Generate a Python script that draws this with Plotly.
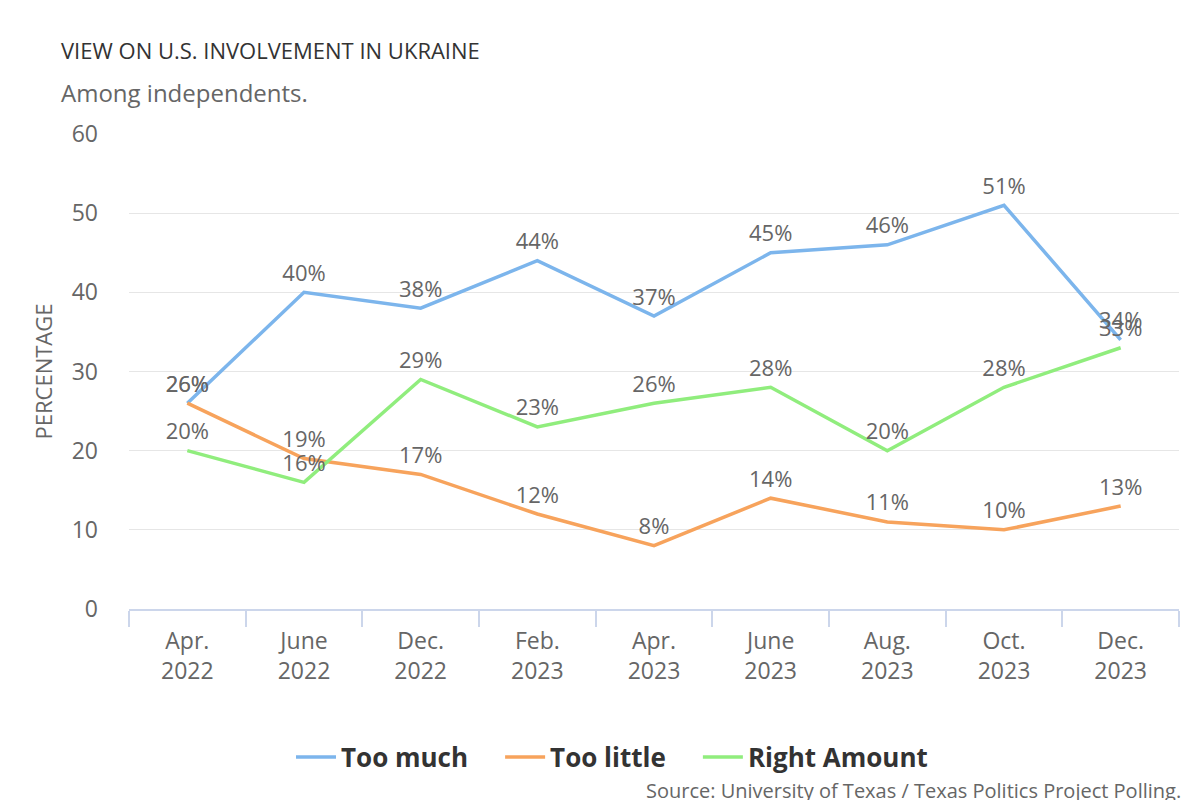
import plotly.graph_objects as go

categories = ["Apr.<br>2022", "June<br>2022", "Dec.<br>2022", "Feb.<br>2023", "Apr.<br>2023",
              "June<br>2023", "Aug.<br>2023", "Oct.<br>2023", "Dec.<br>2023"]
too_much = [26, 40, 38, 44, 37, 45, 46, 51, 34]
too_little = [26, 19, 17, 12, 8, 14, 11, 10, 13]
right_amount = [20, 16, 29, 23, 26, 28, 20, 28, 33]

NB = "\u00a0"
series = [
    ("Too much", too_much, "#7cb5ec", NB * 4),
    ("Too little", too_little, "#f7a35c", NB * 4),
    ("Right Amount", right_amount, "#90ed7d", ""),
]

FONT = "Open Sans"
OFF = 8  # page body margin
W, H = 1200 - OFF, 800 - OFF
# plot area in page pixels
PX0, PX1, PY0, PY1 = 129, 1179, 134, 609
L, T = PX0 - OFF, PY0 - OFF
R, B = W - L - (PX1 - PX0), H - T - (PY1 - PY0)
PW, PH = PX1 - PX0, PY1 - PY0


def px_x(x):
    return (x - PX0) / PW


def px_y(y):
    return (PY1 - y) / PH


fig = go.Figure()
for name, vals, color, pad in series:
    fig.add_trace(go.Scatter(
        x=categories, y=vals, name=name + pad, mode="lines+markers+text",
        line=dict(color=color, width=3.5),
        marker=dict(size=8, color="rgba(0,0,0,0)"),
        text=[f"{v}%" for v in vals], textposition="top center",
        textfont=dict(family=FONT, size=22, color="#666666"),
        cliponaxis=False,
    ))

fig.update_layout(
    width=W, height=H,
    paper_bgcolor="white", plot_bgcolor="white",
    margin=dict(l=L, r=R, t=T, b=B),
    font=dict(family=FONT, color="#666666"),
    showlegend=True,
    legend=dict(orientation="h", xref="container", x=(612 - OFF) / W, xanchor="center",
                yref="container", y=(H - (757 - OFF)) / H, yanchor="middle",
                font=dict(family=FONT, size=26, color="#333333", weight="bold"),
                itemwidth=40, tracegroupgap=0),
    xaxis=dict(type="category", range=[-0.5, 8.5], tickson="boundaries",
               showline=True, linecolor="#ccd6eb", linewidth=2,
               ticks="outside", ticklen=16, tickcolor="#ccd6eb", tickwidth=2,
               ticklabelstandoff=10,
               showgrid=False, tickfont=dict(size=23, color="#666666"), fixedrange=True),
    yaxis=dict(range=[0, 60], dtick=10, gridcolor="#e6e6e6", gridwidth=1,
               zeroline=False, showline=False, ticks="",
               tickfont=dict(size=23, color="#666666"), ticklabelstandoff=30,
               title=dict(text="PERCENTAGE", font=dict(size=22, color="#666666"), standoff=12)),
    annotations=[
        dict(text="VIEW ON U.S. INVOLVEMENT IN UKRAINE", xref="paper", yref="paper",
             x=px_x(59), y=px_y(50), xanchor="left", yanchor="middle", showarrow=False,
             font=dict(family=FONT, size=22, color="#333333")),
        dict(text="Among independents.", xref="paper", yref="paper",
             x=px_x(59), y=px_y(92), xanchor="left", yanchor="middle", showarrow=False,
             font=dict(family=FONT, size=24, color="#666666")),
        dict(text="Source: University of Texas / Texas Politics Project Polling.", xref="paper",
             yref="paper", x=px_x(1183), y=px_y(806), xanchor="right", yanchor="bottom",
             showarrow=False, font=dict(family=FONT, size=20, color="#666666")),
    ],
)

fig.write_html("out.html")
